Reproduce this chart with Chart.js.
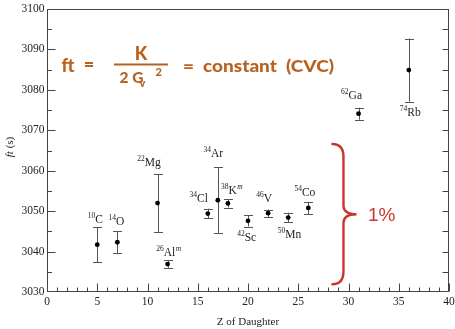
<!DOCTYPE html>
<html>
<head>
<meta charset="utf-8">
<script src="https://cdn.jsdelivr.net/npm/chart.js@4.4.1/dist/chart.umd.min.js"></script>
<style>
  html, body { margin: 0; padding: 0; background: #fff; }
  #c { display: block; }
</style>
</head>
<body>
<canvas id="c" width="455" height="329"></canvas>
<script>
// Superallowed 0+ -> 0+ beta decays: ft value versus Z of the daughter nucleus
const zDaughter  = [5, 7, 11, 12, 16, 17, 18, 20, 22, 24, 26, 31, 36];
const ftValues   = [3041.7, 3042.3, 3052.0, 3036.9, 3049.4, 3052.7, 3051.9, 3047.6, 3049.5, 3048.4, 3050.8, 3074.1, 3084.9];
const ftErrors   = [4.3, 2.7, 7.2, 0.9, 1.2, 8.2, 1.0, 1.4, 0.9, 1.2, 1.5, 1.5, 7.8];
const massNumbers = ['10', '14', '22', '26', '34', '34', '38', '42', '46', '50', '54', '62', '74'];
const elements    = ['C', 'O', 'Mg', 'Al', 'Cl', 'Ar', 'K', 'Sc', 'V', 'Mn', 'Co', 'Ga', 'Rb'];
const isomers     = ['', '', '', 'm', '', '', 'm', '', '', '', '', '', ''];
const xTickValues = [0, 5, 10, 15, 20, 25, 30, 35, 40];
const yTickValues = [3030, 3040, 3050, 3060, 3070, 3080, 3090, 3100];

// label placement, in pixels from each point
const labelOffsets = [[-2, -26], [-1, -21.5], [-8.5, -41], [1, -12], [-9, -16], [-4.5, -47], [4, -13],
                      [-1.3, 16.3], [-4, -15], [1.4, 16.5], [-3.4, -16], [-7, -18.6], [1.5, 42]];

const SERIF = '"Liberation Serif", "Times New Roman", serif';
const FORMULA_COLOR = '#b9621f';
const BRACE_COLOR = '#c8372d';
const AXIS_COLOR = '#444';

const points = zDaughter.map((z, i) => ({ x: z, y: ftValues[i] }));

const errorBars = {
  id: 'errorBars',
  beforeDatasetsDraw(chart) {
    const { ctx, scales: { x, y } } = chart;
    ctx.save();
    ctx.strokeStyle = '#555';
    ctx.lineWidth = 1;
    zDaughter.forEach((z, i) => {
      const px = Math.round(x.getPixelForValue(z)) + 0.5;
      const yt = y.getPixelForValue(ftValues[i] + ftErrors[i]);
      const yb = y.getPixelForValue(ftValues[i] - ftErrors[i]);
      ctx.beginPath();
      ctx.moveTo(px, yt); ctx.lineTo(px, yb);
      ctx.moveTo(px - 4.5, Math.round(yt) + 0.5); ctx.lineTo(px + 4.5, Math.round(yt) + 0.5);
      ctx.moveTo(px - 4.5, Math.round(yb) + 0.5); ctx.lineTo(px + 4.5, Math.round(yb) + 0.5);
      ctx.stroke();
    });
    ctx.restore();
  }
};

const frameAndTicks = {
  id: 'frameAndTicks',
  afterDraw(chart) {
    const { ctx, chartArea: a, scales: { x, y } } = chart;
    const L = Math.round(a.left) + 0.5, R = Math.round(a.right) - 0.5;
    const T = Math.round(a.top) + 0.5, B = Math.round(a.bottom) - 0.5;
    ctx.save();
    ctx.strokeStyle = AXIS_COLOR;
    ctx.lineWidth = 1;
    ctx.strokeRect(L, T, R - L, B - T);
    ctx.beginPath();
    // bottom axis: minor every 1, major every 5, pointing inward
    for (let v = 0; v <= 40; v++) {
      const px = Math.round(x.getPixelForValue(v)) + 0.5;
      const len = v % 5 === 0 ? 8 : 4;
      ctx.moveTo(px, B); ctx.lineTo(px, B - len);
    }
    // left and right axes: minor every 5, major every 10
    for (let v = 3035; v < 3100; v += 5) {
      const py = Math.round(y.getPixelForValue(v)) + 0.5;
      const len = v % 10 === 0 ? 8 : 4.5;
      ctx.moveTo(L, py); ctx.lineTo(L + len, py);
      ctx.moveTo(R, py); ctx.lineTo(R - 6, py);
    }
    ctx.stroke();
    ctx.restore();
  }
};

const annotations = {
  id: 'annotations',
  afterDraw(chart) {
    const { ctx, scales: { x, y } } = chart;
    ctx.save();

    // nuclide labels: superscript mass number, symbol, isomer mark
    zDaughter.forEach((z, i) => {
      const cx = x.getPixelForValue(z) + labelOffsets[i][0];
      const cy = y.getPixelForValue(ftValues[i]) + labelOffsets[i][1];
      const supFont = '7.5px ' + SERIF;
      const isoFont = 'italic 7.5px ' + SERIF;
      const symFont = '11.5px ' + SERIF;
      ctx.font = supFont; const wm = ctx.measureText(massNumbers[i]).width;
      ctx.font = symFont; const ws = ctx.measureText(elements[i]).width;
      ctx.font = isoFont; const wi = isomers[i] ? ctx.measureText(isomers[i]).width + 0.5 : 0;
      let sx = cx - (wm + ws + wi) / 2;
      ctx.fillStyle = '#222';
      ctx.textAlign = 'left';
      ctx.textBaseline = 'alphabetic';
      const base = cy + 4;
      ctx.font = supFont; ctx.fillText(massNumbers[i], sx, base - 5); sx += wm;
      ctx.font = symFont; ctx.fillText(elements[i], sx, base); sx += ws;
      if (isomers[i]) { ctx.font = isoFont; ctx.fillText(isomers[i], sx + 0.5, base - 5); }
    });

    // axis titles
    ctx.fillStyle = '#222';
    ctx.textBaseline = 'middle';
    ctx.textAlign = 'center';
    ctx.font = '11px ' + SERIF;
    ctx.fillText('Z of Daughter', 248, 322);
    ctx.save();
    ctx.translate(10, 147);
    ctx.rotate(-Math.PI / 2);
    ctx.font = 'italic 11px ' + SERIF;
    const wft = ctx.measureText('ft').width;
    ctx.font = '11px ' + SERIF;
    const wrest = ctx.measureText(' (s)').width;
    ctx.textAlign = 'left';
    ctx.font = 'italic 11px ' + SERIF;
    ctx.fillText('ft', -(wft + wrest) / 2, 0);
    ctx.font = '11px ' + SERIF;
    ctx.fillText(' (s)', -(wft + wrest) / 2 + wft, 0);
    ctx.restore();

    // formula
    const FF = '"Lato", "Open Sans", sans-serif';
    ctx.fillStyle = FORMULA_COLOR;
    ctx.strokeStyle = FORMULA_COLOR;
    ctx.textBaseline = 'alphabetic';
    ctx.textAlign = 'center';
    ctx.font = '900 18px ' + FF;
    ctx.fillText('ft', 68, 72);
    ctx.fillText('=', 89, 71);
    ctx.fillText('K', 141, 60);
    ctx.lineWidth = 2;
    ctx.beginPath(); ctx.moveTo(114, 64.5); ctx.lineTo(168, 64.5); ctx.stroke();
    ctx.textAlign = 'left';
    ctx.font = '900 15.5px ' + FF;
    ctx.fillText('2 G', 119.5, 83);
    ctx.font = '900 11px ' + FF;
    ctx.fillText('v', 139.5, 87);
    ctx.fillText('2', 155.5, 76);
    ctx.font = '900 17px ' + FF;
    const eqText = '=  constant  (CVC)';
    const wEq = ctx.measureText(eqText).width;
    ctx.save();
    ctx.translate(183, 72);
    ctx.scale(151 / wEq, 1);
    ctx.fillText(eqText, 0, 0);
    ctx.restore();

    // 1% brace
    const bL = x.getPixelForValue(28.4), bS = x.getPixelForValue(29.5), bT = x.getPixelForValue(30.8);
    const bTop = y.getPixelForValue(3066.6), bBot = y.getPixelForValue(3031.9);
    const bMid = (bTop + bBot) / 2;
    ctx.strokeStyle = BRACE_COLOR;
    ctx.lineWidth = 2.4;
    ctx.lineCap = 'round';
    ctx.beginPath();
    ctx.moveTo(bL, bTop);
    ctx.quadraticCurveTo(bS, bTop, bS, bTop + 13);
    ctx.lineTo(bS, bMid - 9);
    ctx.quadraticCurveTo(bS, bMid, bT, bMid);
    ctx.quadraticCurveTo(bS, bMid, bS, bMid + 9);
    ctx.lineTo(bS, bBot - 13);
    ctx.quadraticCurveTo(bS, bBot, bL, bBot);
    ctx.stroke();
    ctx.fillStyle = BRACE_COLOR;
    ctx.font = '19px "Liberation Sans", Arial, sans-serif';
    ctx.textAlign = 'left';
    ctx.textBaseline = 'middle';
    ctx.fillText('1%', 368, 215.5);

    ctx.restore();
  }
};

new Chart(document.getElementById('c'), {
  type: 'scatter',
  data: {
    datasets: [{
      data: points,
      backgroundColor: '#000',
      borderColor: '#000',
      pointRadius: 2.4,
      pointBorderWidth: 0
    }]
  },
  options: {
    responsive: false,
    animation: false,
    devicePixelRatio: 1,
    layout: { padding: { left: 0, top: 9, right: 6, bottom: 0 } },
    plugins: { legend: { display: false }, tooltip: { enabled: false } },
    scales: {
      x: {
        type: 'linear', min: 0, max: 40,
        afterBuildTicks: s => { s.ticks = xTickValues.map(v => ({ value: v })); },
        ticks: { callback: v => String(v), color: '#222', padding: 3, maxRotation: 0, autoSkip: false,
                 font: { family: SERIF, size: 11.5 } },
        grid: { display: false, drawTicks: false },
        border: { display: false },
        afterFit: s => { s.height = 37; s.paddingLeft = 0; s.paddingRight = 0; }
      },
      y: {
        type: 'linear', min: 3030, max: 3100,
        afterBuildTicks: s => { s.ticks = yTickValues.map(v => ({ value: v })); },
        ticks: { callback: v => String(v), color: '#222', padding: 2.5, autoSkip: false,
                 font: { family: SERIF, size: 11.5 } },
        grid: { display: false, drawTicks: false },
        border: { display: false },
        afterFit: s => { s.width = 47; s.paddingTop = 0; s.paddingBottom = 0; }
      }
    }
  },
  plugins: [errorBars, frameAndTicks, annotations]
});
</script>
</body>
</html>
